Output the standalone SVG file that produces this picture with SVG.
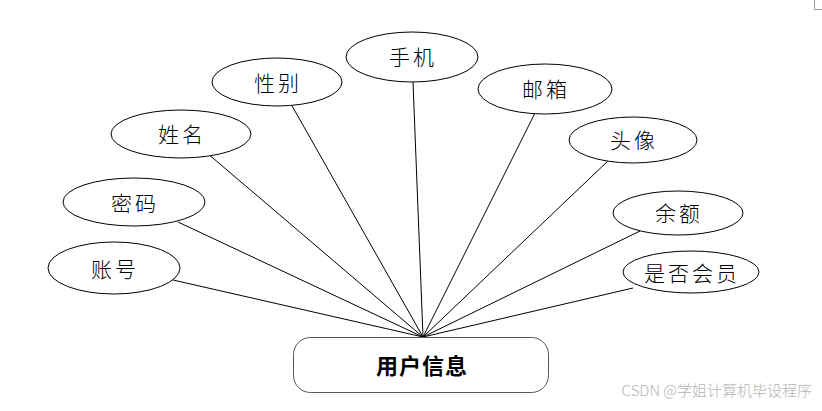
<svg xmlns="http://www.w3.org/2000/svg" width="822" height="411" viewBox="0 0 822 411">
<style>
.e{fill:#fff;stroke:#000;stroke-width:1}
.t{font-family:"Noto Sans CJK SC","Noto Sans CJK TC",sans-serif;font-size:21px;font-weight:300;fill:#000;text-anchor:middle;dominant-baseline:central;letter-spacing:3px}
.l{stroke:#000;stroke-width:1;fill:none}
</style>
<rect width="822" height="411" fill="#fff"/>
<path d="M814.5 0V9.5H822" fill="none" stroke="#999" stroke-width="1"/>
<g id="connectors">
<line class="l" x1="423" y1="337" x2="173" y2="280"/>
<line class="l" x1="423" y1="337" x2="178" y2="222"/>
<line class="l" x1="423" y1="337" x2="207" y2="153"/>
<line class="l" x1="423" y1="337" x2="291" y2="104"/>
<line class="l" x1="423" y1="337" x2="413" y2="82"/>
<line class="l" x1="423" y1="337" x2="535" y2="113"/>
<line class="l" x1="423" y1="337" x2="609" y2="160"/>
<line class="l" x1="423" y1="337" x2="640" y2="231"/>
<line class="l" x1="423" y1="337" x2="633" y2="288"/>
</g>
<g id="n-zhanghao"><ellipse class="e" cx="114" cy="268" rx="66" ry="26"/><text class="t" x="115" y="268">账号</text></g>
<g id="n-mima"><ellipse class="e" cx="134" cy="202" rx="71" ry="24"/><text class="t" x="135" y="202">密码</text></g>
<g id="n-xingming"><ellipse class="e" cx="181" cy="134" rx="70" ry="24"/><text class="t" x="182" y="133">姓名</text></g>
<g id="n-xingbie"><ellipse class="e" cx="277" cy="82" rx="65" ry="24"/><text class="t" x="278" y="82">性别</text></g>
<g id="n-shouji"><ellipse class="e" cx="412" cy="57" rx="66" ry="25"/><text class="t" x="413" y="56">手机</text></g>
<g id="n-youxiang"><ellipse class="e" cx="545" cy="89" rx="67" ry="25"/><text class="t" x="546" y="88">邮箱</text></g>
<g id="n-touxiang"><ellipse class="e" cx="633" cy="140" rx="64" ry="23"/><text class="t" x="634" y="139">头像</text></g>
<g id="n-yue"><ellipse class="e" cx="678" cy="213" rx="65" ry="22"/><text class="t" x="679" y="212">余额</text></g>
<g id="n-shifouhuiyuan"><ellipse class="e" cx="691" cy="272" rx="68" ry="21"/><text class="t" x="692" y="272">是否会员</text></g>
<g id="n-yonghuxinxi"><rect x="293.5" y="337.5" width="255" height="55" rx="17" fill="#fff" stroke="#555" stroke-width="1"/><text class="t" x="422" y="364" style="font-weight:bold;font-size:22px;letter-spacing:1px">用户信息</text></g>
<text x="812" y="396" font-family="'Noto Sans CJK SC',sans-serif" font-size="15" font-weight="300" fill="#b4b4b4" text-anchor="end">CSDN @学姐计算机毕设程序</text>
</svg>
